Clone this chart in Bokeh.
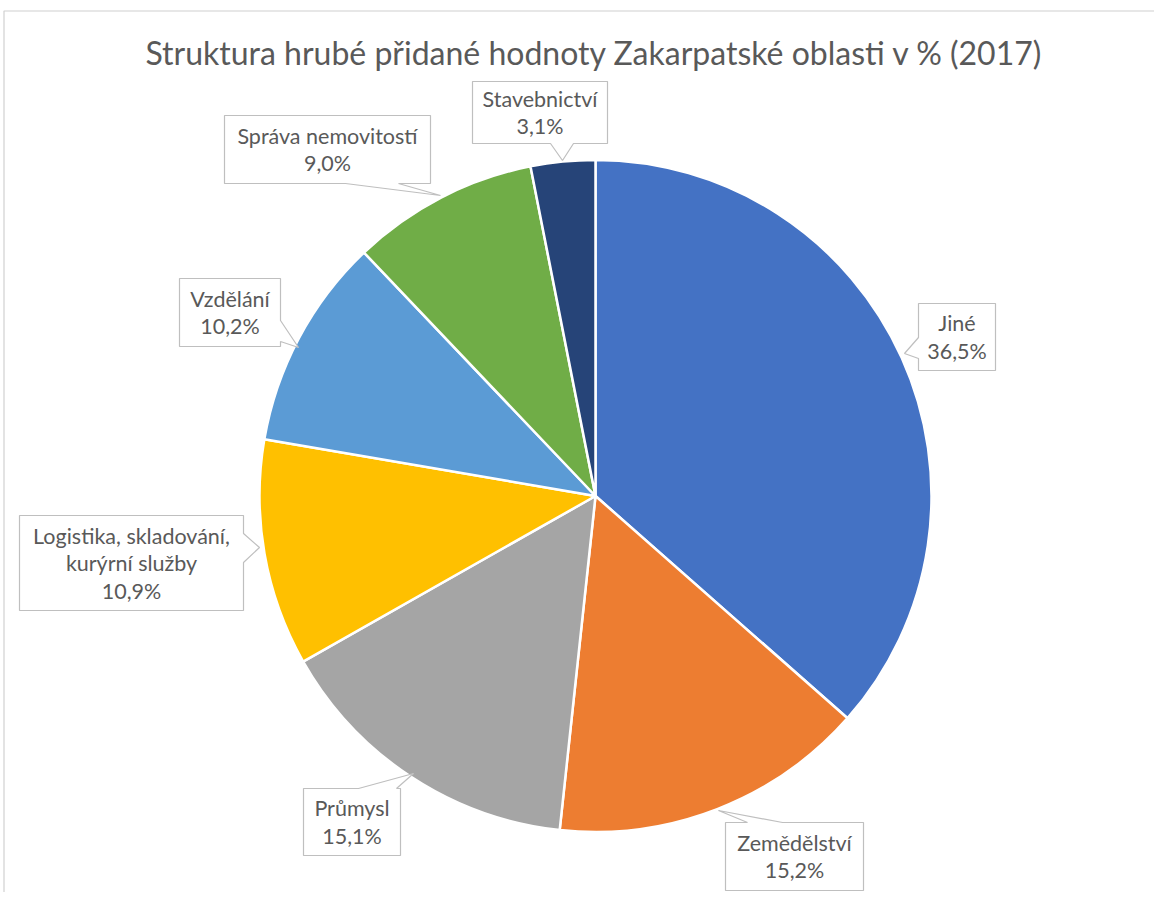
import math
from bokeh.plotting import figure
from bokeh.models import Range1d, ColumnDataSource
from bokeh.core.properties import value
from bokeh.embed import file_html
from bokeh.resources import INLINE

# ---- data ----
categories = ["Jiné", "Zemědělství", "Průmysl", "Logistika, skladování,\nkurýrní služby",
              "Vzdělání", "Správa nemovitostí", "Stavebnictví"]
values = [36.5, 15.2, 15.1, 10.9, 10.2, 9.0, 3.1]
colors = ["#4472C4", "#ED7D31", "#A5A5A5", "#FFC000", "#5B9BD5", "#70AD47", "#264478"]
title_text = "Struktura hrubé přidané hodnoty Zakarpatské oblasti v % (2017)"

W, H = 1154, 892
FONT = "Lato"

def X(rx):
    return rx

def Y(ry):
    return H - ry

p = figure(width=W, height=H, x_range=Range1d(0, W), y_range=Range1d(0, H),
           output_backend="svg", toolbar_location=None, min_border=0)
p.axis.visible = False
p.grid.visible = False
p.outline_line_color = None
p.background_fill_color = "white"

# chart border (top and left edges visible)
p.line([X(3.5), X(3.5), X(1300)], [Y(1000), Y(10.5), Y(10.5)], line_color="#D0D0D0", line_width=1.2)

# ---- pie ----
total = sum(values)
starts, ends = [], []
cum = 0.0
for v in values:
    starts.append(math.pi / 2 - cum / total * 2 * math.pi)
    cum += v
    ends.append(math.pi / 2 - cum / total * 2 * math.pi)

cx, cy, r = X(595), Y(495.5), 336
src = ColumnDataSource(dict(start=starts, end=ends, color=colors))
p.wedge(x=cx, y=cy, radius=r, start_angle="start", end_angle="end", direction="clock",
        fill_color="color", line_color="white", line_width=2.5, source=src)

# ---- callout layout (reference pixel coords) ----
# box (x0, x1, y0, y1), side, pointer base (a, b), tip (tx, ty)
layout = [
    ((918, 995, 303, 370), "left", (337, 358), (904, 353)),
    ((725, 863, 822, 890), "top", (747, 782), (718, 810)),
    ((303, 400, 788, 855), "top", (358, 396), (413, 773)),
    ((19, 243, 515, 610), "right", (533, 562), (259, 547)),
    ((179, 280, 278, 346), "right", (320, 341), (298, 347)),
    ((224, 430, 115, 183), "bottom", (345, 398), (440, 195)),
    ((472, 607, 81, 143), "bottom", (550, 573), (562, 160)),
]

xs_all, ys_all = [], []
tx_all, ty_all, tt_all = [], [], []
line_step = 27.5
for name, v, (box, side, (a, b), (tx, ty)) in zip(categories, values, layout):
    x0, x1, y0, y1 = box
    # clockwise on screen, starting top-left
    pts = [(x0, y0)]
    if side == "top":
        pts += [(a, y0), (tx, ty), (b, y0)]
    pts.append((x1, y0))
    if side == "right":
        pts += [(x1, a), (tx, ty), (x1, b)]
    pts.append((x1, y1))
    if side == "bottom":
        pts += [(b, y1), (tx, ty), (a, y1)]
    pts.append((x0, y1))
    if side == "left":
        pts += [(x0, b), (tx, ty), (x0, a)]
    xs_all.append([X(px) for px, py in pts])
    ys_all.append([Y(py) for px, py in pts])

    lines = name.split("\n") + [f"{v:.1f}".replace(".", ",") + "%"]
    mx = (x0 + x1) / 2
    my = (y0 + y1) / 2
    n = len(lines)
    for i, t in enumerate(lines):
        ly = my + (i - (n - 1) / 2) * line_step
        tx_all.append(X(mx))
        ty_all.append(Y(ly))
        tt_all.append(t)

p.patches(xs=xs_all, ys=ys_all, fill_color="white", line_color="#BFBFBF", line_width=1.2)
p.text(x=tx_all, y=ty_all, text=tt_all, text_align="center", text_baseline="middle",
       text_font=value(FONT), text_font_size="21.5px", text_color="#595959")

# ---- title ----
p.text(x=[X(594)], y=[Y(52)], text=[title_text], text_align="center", text_baseline="middle",
       text_font=value(FONT), text_font_size="32px", text_color="#595959")

open("out.html", "w").write(file_html(p, INLINE))
